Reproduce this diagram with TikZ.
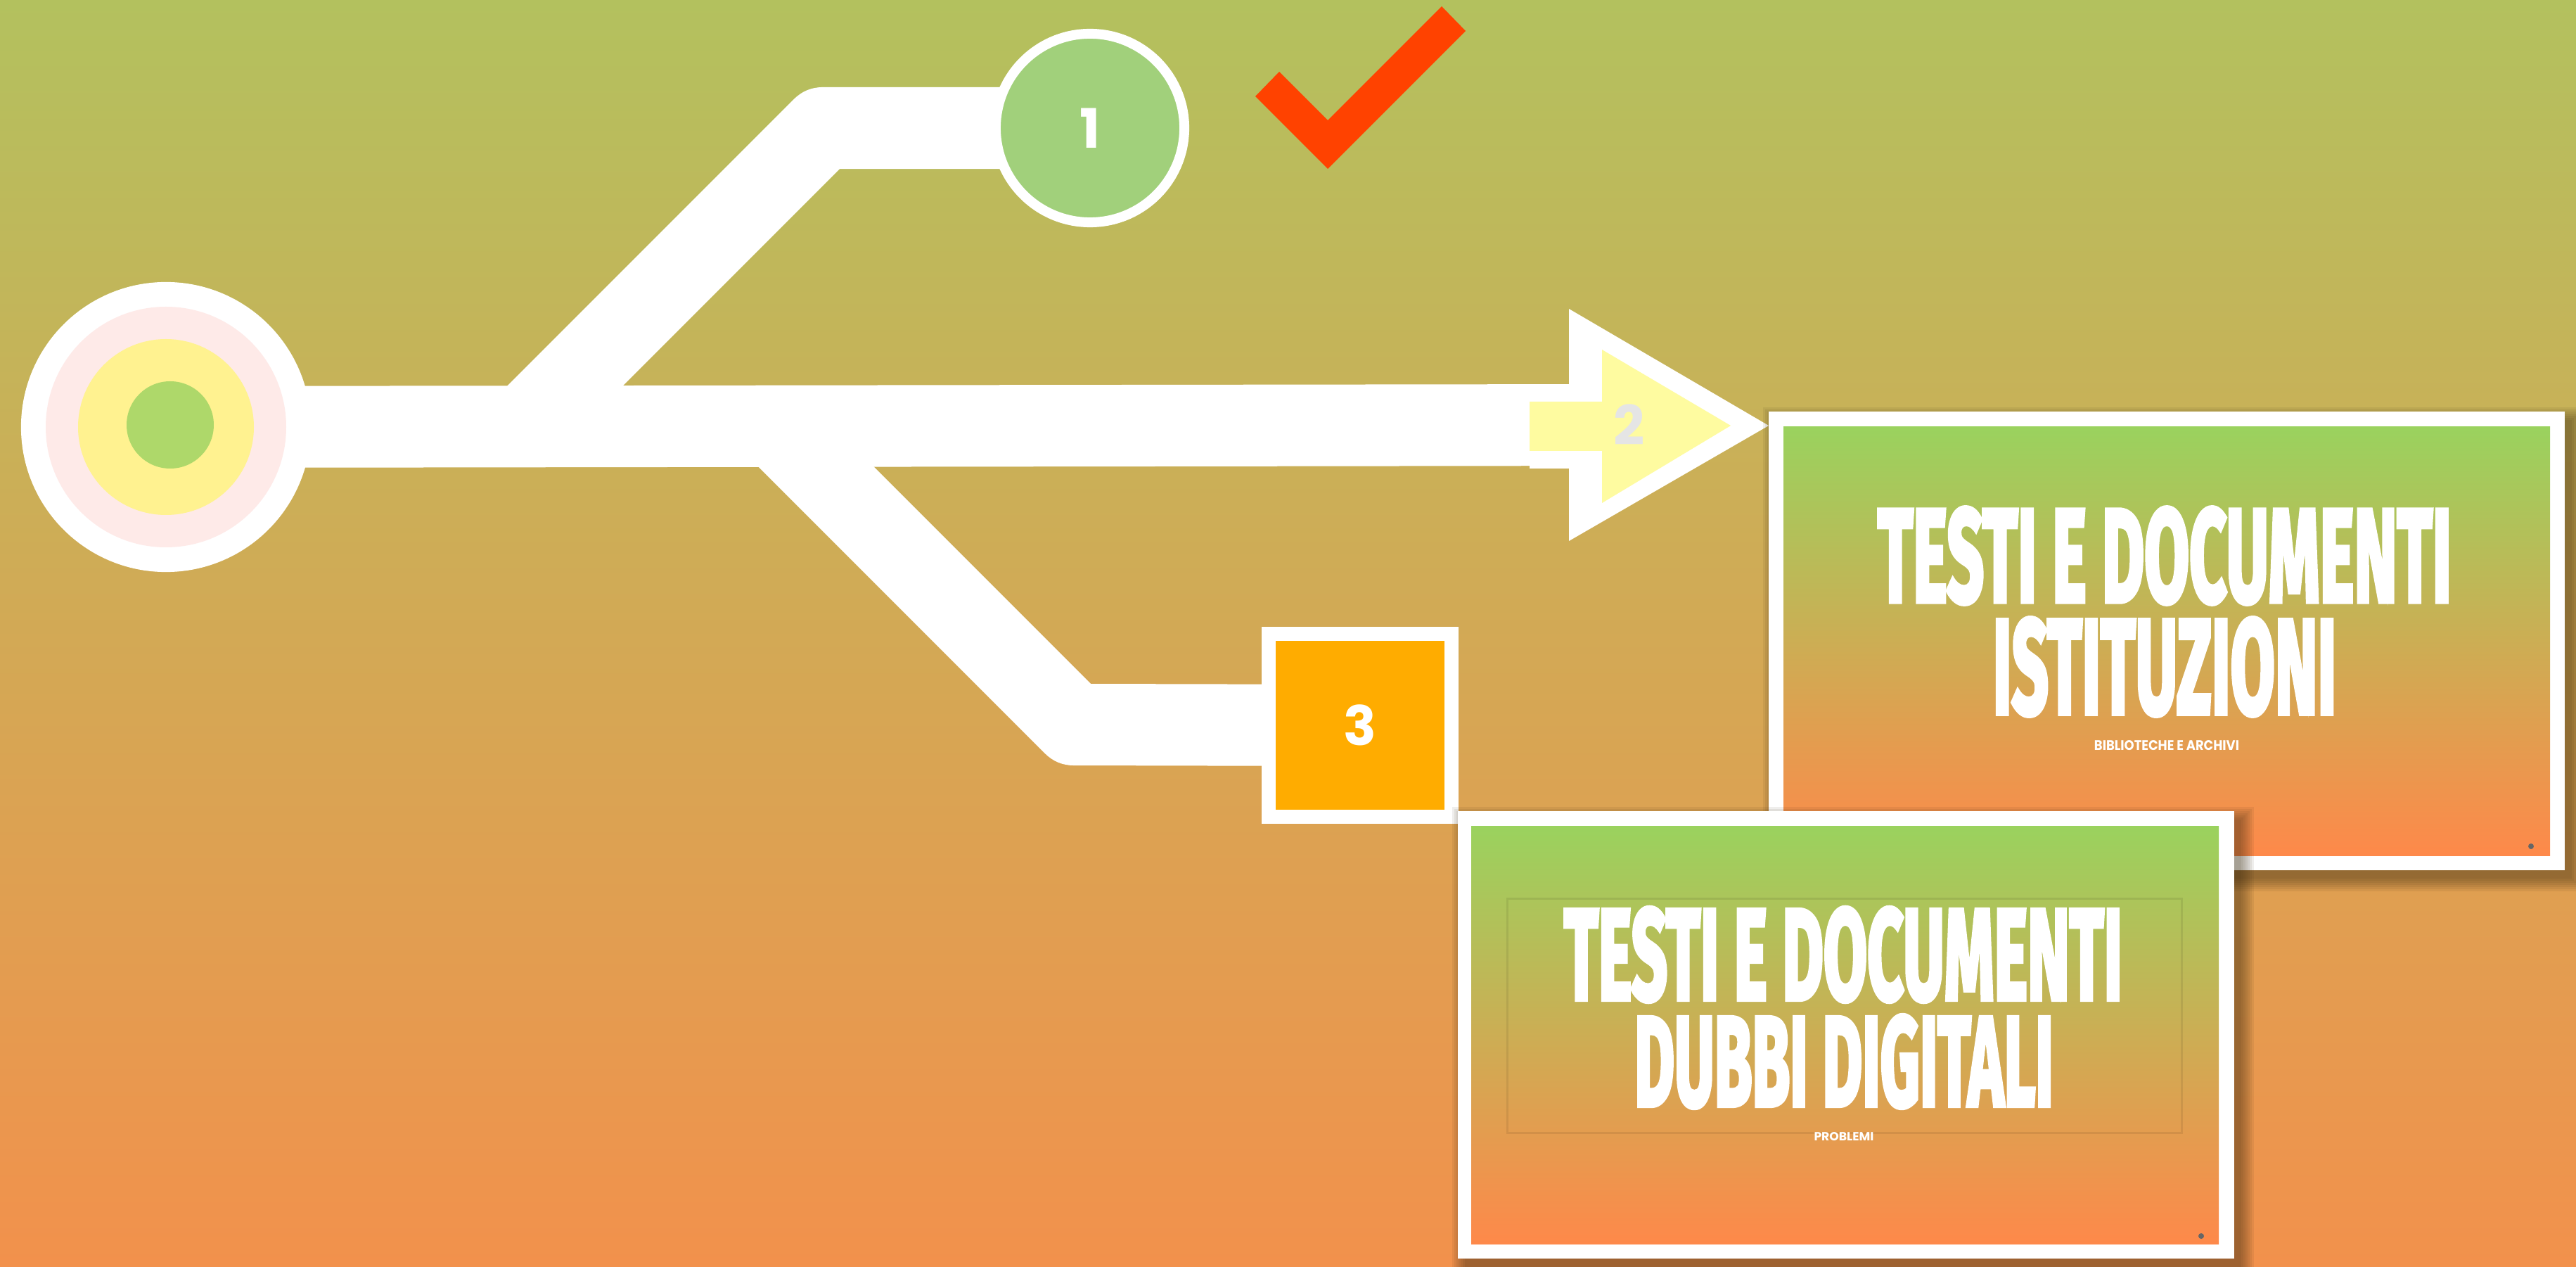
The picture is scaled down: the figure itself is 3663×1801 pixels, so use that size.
\documentclass[tikz,border=0pt]{standalone}
\usepackage{fontspec}
\usepackage{graphicx}
\newfontfamily\numfont{Poppins}
\newfontfamily\titlefont[FakeBold=4]{Fira Sans}
\definecolor{bgtop}{HTML}{B3C15E}
\definecolor{bgbot}{HTML}{F2914C}
\definecolor{slidetop}{HTML}{9AD25E}
\definecolor{slidebot}{HTML}{FE894A}
\definecolor{ringpink}{HTML}{FEEAE8}
\definecolor{ringyellow}{HTML}{FFF290}
\definecolor{ringgreen}{HTML}{AED86A}
\definecolor{stepgreen}{HTML}{A1D07B}
\definecolor{steporange}{HTML}{FFAC00}
\definecolor{arrowyellow}{HTML}{FEFBA0}
\definecolor{checkred}{HTML}{FF4200}
\definecolor{shadowbrown}{HTML}{3A2A10}
\newcommand{\slidetitle}[3]{\resizebox{#1}{#2}{\titlefont\bfseries #3}}
\newcommand{\slidesub}[3]{\resizebox{#1}{#2}{\numfont\bfseries #3}}
% soft shadow under a slide: x1 y1 x2 y2
\newcommand{\slideshadow}[4]{\foreach \g in {0,3,...,18}
  \fill[shadowbrown,opacity=0.08] (#1+10-\g,#2+12-\g) rectangle (#3+10+\g,#4+12+\g);}

\begin{document}
\begin{tikzpicture}[x=0.01cm,y=-0.01cm,
  bar/.style={draw=white,line width=1.16cm,line join=round},
  numtext/.style={text=white,font=\numfont\bfseries\fontsize{22}{22}\selectfont,inner sep=0pt},
  slidetext/.style={text=white,inner sep=0pt}]
\useasboundingbox (0,0) rectangle (3663,1801);
\shade[top color=bgtop,bottom color=bgbot] (0,0) rectangle (3663,1801);
% centres of the steps
\coordinate (start) at (236,607);
\coordinate (fork1) at (745,607);
\coordinate (bend1) at (1170,182);
\coordinate (fork3) at (1104,607);
\coordinate (bend3) at (1527,1030);
\coordinate (stop1) at (1550,182);
\coordinate (stop2) at (2317,604);
\coordinate (stop3) at (1934,1031);
% white paths
\draw[bar] (start) -- (stop2);
\draw[bar] (fork1) -- (bend1) -- (stop1);
\draw[bar] (fork3) -- (bend3) -- (stop3);
% start target
\node[circle,fill=white,minimum size=4.12cm,inner sep=0pt] (target) at (start) {};
\fill[ringpink] (target.center) circle[radius=171];
\fill[ringyellow] (target.center) circle[radius=125];
\fill[ringgreen] (target.center) ++(6,-3) circle[radius=62];
% arrow 2
\fill[white] (2175,548) -- (2231,548) -- (2231,439) -- (2515,605) -- (2231,769) -- (2231,666) -- (2175,666) -- cycle;
\fill[arrowyellow] (2175,571) -- (2278,571) -- (2278,497) -- (2461,605) -- (2278,715) -- (2278,641) -- (2175,641) -- cycle;
\node[numtext,text=black!10] (two) at (stop2) {2};
% steps 1 and 3
\node[numtext,circle,fill=stepgreen,draw=white,line width=0.14cm,minimum size=2.68cm] (one) at (stop1) {1};
\node[numtext,rectangle,fill=steporange,draw=white,line width=0.2cm,minimum size=2.59cm] (three) at (stop3) {3};
\fill[checkred] (1785,137) -- (1888,240) -- (2084,44) -- (2050,9) -- (1888,171) -- (1819,102) -- cycle;
% slide A
\slideshadow{2515}{585}{3647}{1237}
\fill[white] (2515,585) rectangle (3647,1237);
\shade[top color=slidetop,bottom color=slidebot] (2536,607) rectangle (3626,1216);
\node[slidetext] (titleA1) at (3078,790) {\slidetitle{8.15cm}{1.33cm}{TESTI E DOCUMENTI}};
\node[slidetext] (titleA2) at (3078,948) {\slidetitle{4.88cm}{1.35cm}{ISTITUZIONI}};
\node[slidetext] (subA) at (3081,1060) {\slidesub{2.06cm}{0.14cm}{BIBLIOTECHE E ARCHIVI}};
\fill[black!60] (3599,1203) circle[radius=4];
% slide B
\slideshadow{2073}{1153}{3177}{1789}
\fill[white] (2073,1153) rectangle (3177,1789);
\shade[top color=slidetop,bottom color=slidebot] (2092,1174) rectangle (3155,1768);
\draw[black,opacity=0.08,line width=0.03cm] (2143,1277) rectangle (3102,1610);
\node[slidetext] (titleB1) at (2621,1357) {\slidetitle{7.93cm}{1.30cm}{TESTI E DOCUMENTI}};
\node[slidetext] (titleB2) at (2622,1509) {\slidetitle{5.95cm}{1.28cm}{DUBBI DIGITALI}};
\node[slidetext] (subB) at (2622,1616) {\slidesub{0.85cm}{0.12cm}{PROBLEMI}};
\fill[black!60] (3130,1757) circle[radius=4];
\end{tikzpicture}
\end{document}
